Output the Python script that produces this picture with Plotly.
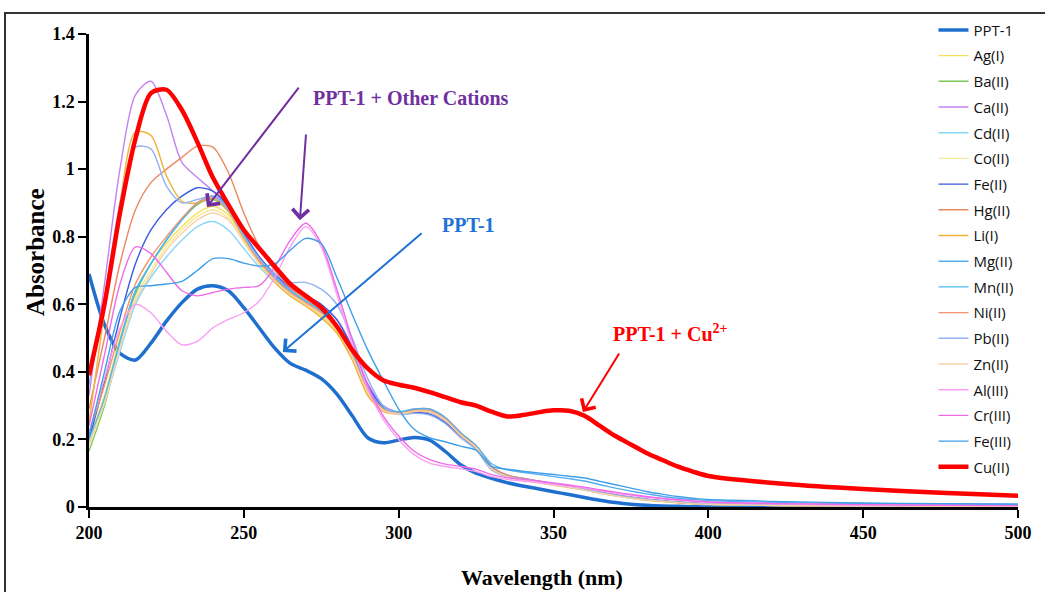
import plotly.graph_objects as go

wavelength = [200, 205, 210, 215, 220, 225, 230, 235, 240, 245, 250, 255, 260, 265, 270, 275, 280, 285, 290, 295,
              300, 305, 310, 315, 320, 325, 330, 335, 340, 345, 350, 355, 360, 365, 370, 375, 380, 385, 390, 395,
              400, 425, 450, 475, 500]

ppt1 = [0.69, 0.54, 0.455, 0.435, 0.485, 0.55, 0.605, 0.645, 0.655, 0.64, 0.59, 0.53, 0.47, 0.425, 0.405, 0.38, 0.335, 0.27, 0.205, 0.19,
        0.198, 0.206, 0.198, 0.165, 0.125, 0.10, 0.085, 0.072, 0.062, 0.054, 0.045, 0.037, 0.028, 0.02, 0.013, 0.008, 0.005, 0.003, 0.002, 0.001,
        0.0, 0.0, 0.0, 0.0, 0.0]
ag = [0.20, 0.33, 0.50, 0.64, 0.72, 0.78, 0.83, 0.87, 0.89, 0.865, 0.79, 0.72, 0.665, 0.625, 0.595, 0.565, 0.52, 0.44, 0.335, 0.285,
      0.275, 0.28, 0.28, 0.255, 0.21, 0.175, 0.112, 0.09, 0.08, 0.072, 0.064, 0.057, 0.05, 0.041, 0.033, 0.026, 0.02, 0.016, 0.012, 0.01,
      0.008, 0.004, 0.003, 0.002, 0.002]
ba = [0.165, 0.30, 0.48, 0.63, 0.72, 0.79, 0.85, 0.895, 0.91, 0.875, 0.80, 0.73, 0.675, 0.635, 0.605, 0.575, 0.53, 0.45, 0.345, 0.29,
      0.278, 0.285, 0.285, 0.26, 0.215, 0.178, 0.115, 0.092, 0.083, 0.075, 0.067, 0.06, 0.052, 0.043, 0.035, 0.028, 0.022, 0.018, 0.014, 0.011,
      0.009, 0.005, 0.003, 0.002, 0.002]
ca = [0.33, 0.66, 1.00, 1.22, 1.26, 1.16, 1.02, 0.975, 0.935, 0.885, 0.81, 0.74, 0.685, 0.645, 0.62, 0.595, 0.555, 0.475, 0.365, 0.30,
      0.28, 0.285, 0.28, 0.255, 0.21, 0.175, 0.118, 0.094, 0.085, 0.077, 0.069, 0.062, 0.054, 0.045, 0.037, 0.03, 0.024, 0.019, 0.015, 0.012,
      0.01, 0.005, 0.003, 0.002, 0.002]
cd = [0.19, 0.31, 0.46, 0.60, 0.68, 0.74, 0.79, 0.83, 0.845, 0.82, 0.765, 0.71, 0.665, 0.63, 0.60, 0.575, 0.535, 0.455, 0.35, 0.29,
      0.275, 0.282, 0.282, 0.258, 0.213, 0.176, 0.113, 0.09, 0.081, 0.073, 0.065, 0.058, 0.05, 0.041, 0.033, 0.026, 0.021, 0.017, 0.013, 0.01,
      0.008, 0.004, 0.003, 0.002, 0.002]
co = [0.18, 0.31, 0.48, 0.62, 0.70, 0.77, 0.82, 0.86, 0.88, 0.855, 0.785, 0.72, 0.67, 0.63, 0.60, 0.57, 0.525, 0.445, 0.34, 0.287,
      0.276, 0.282, 0.282, 0.257, 0.212, 0.176, 0.113, 0.09, 0.081, 0.073, 0.065, 0.058, 0.05, 0.041, 0.033, 0.026, 0.021, 0.017, 0.013, 0.01,
      0.008, 0.004, 0.003, 0.002, 0.002]
fe2 = [0.20, 0.37, 0.56, 0.72, 0.82, 0.88, 0.92, 0.945, 0.935, 0.89, 0.81, 0.74, 0.69, 0.65, 0.625, 0.60, 0.555, 0.47, 0.36, 0.295,
       0.28, 0.28, 0.275, 0.25, 0.21, 0.175, 0.115, 0.092, 0.083, 0.075, 0.067, 0.06, 0.052, 0.043, 0.035, 0.028, 0.022, 0.018, 0.014, 0.011,
       0.009, 0.005, 0.003, 0.002, 0.002]
hg = [0.29, 0.50, 0.72, 0.88, 0.96, 1.00, 1.035, 1.068, 1.065, 0.99, 0.87, 0.77, 0.70, 0.65, 0.615, 0.585, 0.54, 0.46, 0.35, 0.29,
      0.28, 0.29, 0.29, 0.265, 0.22, 0.18, 0.12, 0.095, 0.085, 0.077, 0.069, 0.061, 0.053, 0.044, 0.036, 0.029, 0.023, 0.018, 0.014, 0.011,
      0.009, 0.005, 0.003, 0.002, 0.002]
li = [0.25, 0.58, 0.90, 1.11, 1.10, 0.98, 0.905, 0.90, 0.915, 0.875, 0.795, 0.725, 0.665, 0.625, 0.595, 0.56, 0.515, 0.435, 0.33, 0.283,
      0.275, 0.282, 0.283, 0.258, 0.212, 0.176, 0.113, 0.09, 0.082, 0.074, 0.066, 0.059, 0.051, 0.042, 0.034, 0.027, 0.021, 0.017, 0.013, 0.01,
      0.008, 0.004, 0.003, 0.002, 0.002]
mg = [0.20, 0.32, 0.49, 0.64, 0.72, 0.79, 0.85, 0.90, 0.92, 0.885, 0.805, 0.735, 0.68, 0.64, 0.61, 0.58, 0.535, 0.455, 0.35, 0.293,
      0.282, 0.29, 0.29, 0.265, 0.22, 0.182, 0.128, 0.11, 0.103, 0.097, 0.09, 0.084, 0.077, 0.066, 0.056, 0.047, 0.039, 0.032, 0.026, 0.022,
      0.019, 0.013, 0.01, 0.008, 0.007]
mn = [0.19, 0.32, 0.49, 0.64, 0.72, 0.79, 0.85, 0.90, 0.92, 0.885, 0.805, 0.735, 0.68, 0.64, 0.61, 0.58, 0.535, 0.455, 0.35, 0.292,
      0.28, 0.288, 0.288, 0.262, 0.218, 0.18, 0.116, 0.093, 0.084, 0.076, 0.068, 0.061, 0.053, 0.044, 0.036, 0.029, 0.023, 0.019, 0.015, 0.012,
      0.01, 0.006, 0.004, 0.003, 0.003]
ni = [0.22, 0.36, 0.52, 0.66, 0.74, 0.80, 0.855, 0.90, 0.915, 0.88, 0.80, 0.73, 0.675, 0.635, 0.605, 0.575, 0.53, 0.45, 0.345, 0.29,
      0.278, 0.286, 0.286, 0.26, 0.215, 0.178, 0.115, 0.092, 0.083, 0.075, 0.067, 0.06, 0.052, 0.043, 0.035, 0.028, 0.022, 0.018, 0.014, 0.011,
      0.009, 0.005, 0.003, 0.002, 0.002]
pb = [0.36, 0.62, 0.90, 1.065, 1.06, 0.95, 0.90, 0.91, 0.92, 0.88, 0.80, 0.735, 0.69, 0.665, 0.665, 0.645, 0.60, 0.50, 0.38, 0.30,
      0.274, 0.277, 0.272, 0.247, 0.205, 0.17, 0.11, 0.09, 0.082, 0.075, 0.067, 0.06, 0.052, 0.043, 0.035, 0.028, 0.022, 0.018, 0.014, 0.011,
      0.009, 0.005, 0.003, 0.002, 0.002]
zn = [0.19, 0.31, 0.47, 0.61, 0.69, 0.76, 0.81, 0.85, 0.87, 0.85, 0.785, 0.72, 0.67, 0.63, 0.60, 0.57, 0.525, 0.445, 0.34, 0.287,
      0.276, 0.283, 0.283, 0.258, 0.213, 0.176, 0.113, 0.09, 0.081, 0.073, 0.065, 0.058, 0.05, 0.041, 0.033, 0.026, 0.021, 0.017, 0.013, 0.01,
      0.008, 0.004, 0.003, 0.002, 0.002]
al = [0.22, 0.38, 0.53, 0.60, 0.575, 0.52, 0.48, 0.49, 0.53, 0.555, 0.575, 0.61, 0.68, 0.77, 0.83, 0.77, 0.63, 0.48, 0.35, 0.26,
      0.20, 0.155, 0.13, 0.12, 0.113, 0.105, 0.09, 0.082, 0.077, 0.072, 0.067, 0.061, 0.056, 0.048, 0.041, 0.035, 0.029, 0.024, 0.02, 0.017,
      0.014, 0.009, 0.006, 0.005, 0.004]
cr = [0.24, 0.45, 0.66, 0.77, 0.75, 0.695, 0.64, 0.625, 0.635, 0.645, 0.65, 0.655, 0.71, 0.79, 0.84, 0.78, 0.645, 0.495, 0.36, 0.27,
      0.21, 0.165, 0.14, 0.127, 0.12, 0.112, 0.096, 0.087, 0.082, 0.077, 0.071, 0.065, 0.059, 0.051, 0.044, 0.037, 0.031, 0.026, 0.022, 0.018,
      0.015, 0.01, 0.007, 0.005, 0.004]
fe3 = [0.21, 0.40, 0.58, 0.65, 0.655, 0.66, 0.668, 0.70, 0.735, 0.735, 0.722, 0.713, 0.72, 0.76, 0.795, 0.78, 0.68, 0.57, 0.465, 0.375,
       0.29, 0.23, 0.205, 0.193, 0.18, 0.168, 0.12, 0.112, 0.106, 0.101, 0.096, 0.091, 0.086, 0.076, 0.066, 0.056, 0.046, 0.038, 0.031, 0.026,
       0.022, 0.016, 0.012, 0.01, 0.009]
cu = [0.39, 0.60, 0.87, 1.09, 1.225, 1.235, 1.175, 1.08, 0.975, 0.895, 0.82, 0.765, 0.712, 0.66, 0.625, 0.59, 0.535, 0.465, 0.41, 0.375,
      0.362, 0.353, 0.34, 0.325, 0.31, 0.30, 0.282, 0.268, 0.272, 0.28, 0.286, 0.285, 0.27, 0.24, 0.21, 0.185, 0.16, 0.14, 0.12, 0.105,
      0.092, 0.068, 0.053, 0.042, 0.033]

series_names = ["PPT-1", "Ag(I)", "Ba(II)", "Ca(II)", "Cd(II)", "Co(II)", "Fe(II)", "Hg(II)", "Li(I)", "Mg(II)",
                "Mn(II)", "Ni(II)", "Pb(II)", "Zn(II)", "Al(III)", "Cr(III)", "Fe(III)", "Cu(II)"]
series_values = [ppt1, ag, ba, ca, cd, co, fe2, hg, li, mg, mn, ni, pb, zn, al, cr, fe3, cu]
series_colors = ["#1f6fcf", "#f6e15c", "#7cc95c", "#c384f2", "#8ad6f6", "#f8e89a", "#3a5ae0", "#ec8760", "#efb23a", "#55acee",
                 "#48bcf2", "#f2956c", "#93b2f2", "#f8d3aa", "#fa9ef4", "#ef6ae8", "#3f9fe8", "#ff0000"]
series_widths = [3.5] + [1.4] * 16 + [4.5]

for v in series_values:
    assert len(v) == len(wavelength)

fig = go.Figure()
for name, vals, col, w in zip(series_names, series_values, series_colors, series_widths):
    fig.add_trace(go.Scatter(x=wavelength, y=vals, mode="lines", name=name, legendgroup=name,
                             line=dict(color=col, width=w, shape="spline", smoothing=0.8)))

serif = "Liberation Serif, Times New Roman, serif"

fig.update_layout(
    width=1045, height=592,
    margin=dict(l=89, r=27, t=34, b=85),
    paper_bgcolor="white", plot_bgcolor="white",
    showlegend=True,
    legend=dict(x=0.909, y=1.043, xanchor="left", yanchor="top", bgcolor="rgba(0,0,0,0)",
                font=dict(family="Liberation Sans Narrow, Open Sans, sans-serif", size=15, color="#111"),
                tracegroupgap=3.2, itemwidth=30, maxheight=585),
    xaxis=dict(range=[200, 500], tickvals=[200, 250, 300, 350, 400, 450, 500], ticks="outside", ticklen=8,
               tickwidth=2, tickcolor="black", showline=True, linewidth=2.5, linecolor="black",
               showgrid=False, zeroline=False,
               tickfont=dict(family=serif, size=18, color="black", weight="bold")),
    yaxis=dict(range=[0, 1.4], tickvals=[0, 0.2, 0.4, 0.6, 0.8, 1.0, 1.2, 1.4],
               ticktext=["0", "0.2", "0.4", "0.6", "0.8", "1", "1.2", "1.4"], ticks="outside", ticklen=8,
               tickwidth=2, tickcolor="black", showline=True, linewidth=2.5, linecolor="black",
               showgrid=False, zeroline=False,
               tickfont=dict(family=serif, size=18, color="black", weight="bold")),
    xaxis2=dict(range=[200, 500], tickvals=[200, 250, 300, 350, 400, 450, 500], overlaying="x", anchor="y",
                side="bottom", ticks="inside", ticklen=8, tickwidth=2, tickcolor="black", showticklabels=False,
                showline=False, showgrid=False, zeroline=False),
    yaxis2=dict(range=[0, 1.4], tickvals=[0, 0.2, 0.4, 0.6, 0.8, 1.0, 1.2, 1.4], overlaying="y", anchor="x",
                side="left", ticks="inside", ticklen=8, tickwidth=2, tickcolor="black", showticklabels=False,
                showline=False, showgrid=False, zeroline=False),
)

# axis titles
fig.add_annotation(xref="paper", yref="paper", x=0.4876, y=-0.148, text="Wavelength (nm)", showarrow=False,
                   xanchor="center", yanchor="middle",
                   font=dict(family=serif, size=22, color="black", weight="bold"))
fig.add_annotation(xref="paper", yref="paper", x=-0.0581, y=0.539, text="Absorbance", showarrow=False,
                   textangle=-90, xanchor="center", yanchor="middle",
                   font=dict(family=serif, size=25, color="black", weight="bold"))

# outer frame (top and left edges visible)
fig.add_shape(type="rect", xref="paper", yref="paper", x0=-0.0904, y0=-0.2, x1=1.05, y1=1.0444,
              line=dict(color="#333", width=2), layer="below")

purple = "#7030a0"
blue = "#1f72d6"
red = "#ff0000"
fig.add_annotation(x=304, y=1.21, text="PPT-1 + Other Cations", showarrow=False,
                   font=dict(family=serif, size=20, color=purple, weight="bold"))
fig.add_annotation(x=238.1, y=0.888, ax=268.1, ay=1.246, axref="x", ayref="y", text="", showarrow=True,
                   arrowhead=4, arrowsize=1.6, arrowwidth=2, arrowcolor=purple)
fig.add_annotation(x=268.1, y=0.849, ax=270.1, ay=1.107, axref="x", ayref="y", text="", showarrow=True,
                   arrowhead=4, arrowsize=1.6, arrowwidth=2, arrowcolor=purple)
fig.add_annotation(x=322.4, y=0.835, text="PPT-1", showarrow=False,
                   font=dict(family=serif, size=20, color=blue, weight="bold"))
fig.add_annotation(x=262.6, y=0.459, ax=307.9, ay=0.814, axref="x", ayref="y", text="", showarrow=True,
                   arrowhead=4, arrowsize=1.6, arrowwidth=2, arrowcolor=blue)
fig.add_annotation(x=387.9, y=0.515, text="PPT-1 + Cu<sup>2+</sup>", showarrow=False,
                   font=dict(family=serif, size=20, color=red, weight="bold"))
fig.add_annotation(x=359.5, y=0.281, ax=371.5, ay=0.459, axref="x", ayref="y", text="", showarrow=True,
                   arrowhead=4, arrowsize=1.6, arrowwidth=2, arrowcolor=red)

fig.write_html("out.html")
